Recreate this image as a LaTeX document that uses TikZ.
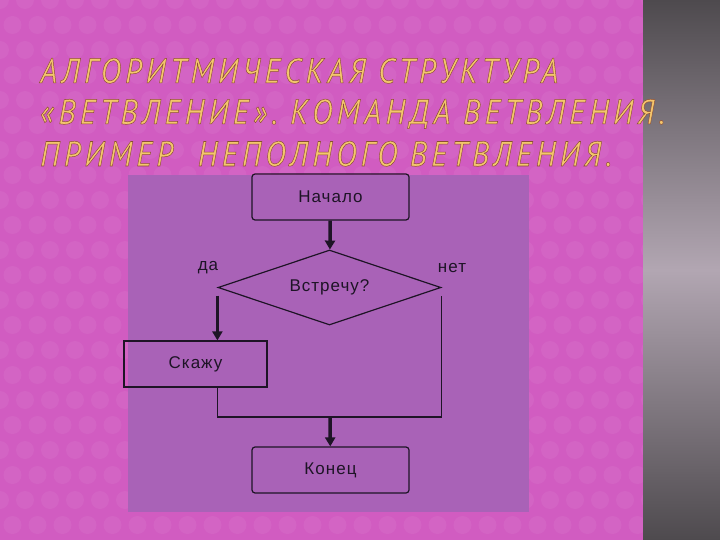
\documentclass[tikz,border=0pt]{standalone}
\usepackage{fontspec}
\usepackage{tikz}
\usetikzlibrary{shapes.geometric,arrows.meta}
\setmainfont{Liberation Sans}
\newfontfamily\titlefont[LetterSpace=14]{PT Sans}
\newfontfamily\chartfont[LetterSpace=6]{Liberation Sans}
\definecolor{slidepink}{HTML}{D15CC1}
\definecolor{panelpurple}{HTML}{A962B7}
\definecolor{titlegold}{HTML}{F4C66C}
\definecolor{chartink}{HTML}{1E1426}
\definecolor{stripdark}{HTML}{4E4A4E}
\definecolor{striplight}{HTML}{B2A6B2}
% gold letters with a thin brown rim
\newcommand\goldtext[1]{\special{pdf:literal direct 2 Tr 0.5 w 0.55 0.3 0.2 RG}#1\special{pdf:literal direct 0 Tr}}

\begin{document}
\begin{tikzpicture}[x=1pt,y=-1pt,
  box/.style={draw=chartink,line width=1.2pt,minimum width=157pt,minimum height=46pt,
    inner sep=0pt,font=\chartfont\fontsize{17}{19}\selectfont,text=chartink},
  flow/.style={line width=3.5pt,draw=chartink,-{Triangle[width=10pt,length=9pt]}},
  wire/.style={line width=1.2pt,draw=chartink},
  title/.style={anchor=base west,inner sep=0pt,text=titlegold,
    font=\titlefont\itshape\fontsize{35}{40}\selectfont}]
  \useasboundingbox (0,0) rectangle (720,540);
  % slide background
  \fill[slidepink] (0,0) rectangle (643,540);
  \foreach \i in {0,...,26}
    \foreach \j in {0,...,22}
      \fill[white,opacity=0.05] ({\i*25+12.5*mod(\j,2)},{\j*25}) circle (9);
  \shade[top color=stripdark,bottom color=stripdark,middle color=striplight]
    (643,0) rectangle (720,540);
  % title
  \node[title] (line1) at (40,83) {\scalebox{0.88}[1]{\goldtext{АЛГОРИТМИЧЕСКАЯ СТРУКТУРА}}};
  \node[title] (line2) at (40,124) {\scalebox{0.88}[1]{\goldtext{«ВЕТВЛЕНИЕ». КОМАНДА ВЕТВЛЕНИЯ.}}};
  \node[title] (line3) at (40,166) {\scalebox{0.88}[1]{\goldtext{ПРИМЕР\ \ НЕПОЛНОГО ВЕТВЛЕНИЯ.}}};
  % flowchart panel
  \fill[panelpurple] (128,175) rectangle (529,512);
  \node[box,rounded corners=3pt] (start) at (330.5,197) {Начало};
  \node[box,shape=diamond,aspect=3,minimum width=223pt,minimum height=75pt] (test) at (329.5,287.5) {Встречу?};
  \node[box,minimum width=143pt] (say) at (195.5,364) {Скажу};
  \node[box,rounded corners=3pt] (stop) at (330.5,470) {Конец};
  \node[font=\chartfont\fontsize{17}{19}\selectfont,text=chartink] (yes) at (208,268) {да};
  \node[font=\chartfont\fontsize{17}{19}\selectfont,text=chartink] (no) at (452,268) {нет};
  \coordinate (yesout) at ([yshift=-8pt]test.west);
  \coordinate (noout) at ([yshift=-8pt]test.east);
  \coordinate (join) at (330,417);
  \draw[flow] (start) -- (test);
  \draw[flow] (yesout) -- (yesout |- say.north);
  \draw[wire] (yesout |- say.south) |- (join) -| (noout);
  \draw[flow] (join) -- (stop);
\end{tikzpicture}
\end{document}
